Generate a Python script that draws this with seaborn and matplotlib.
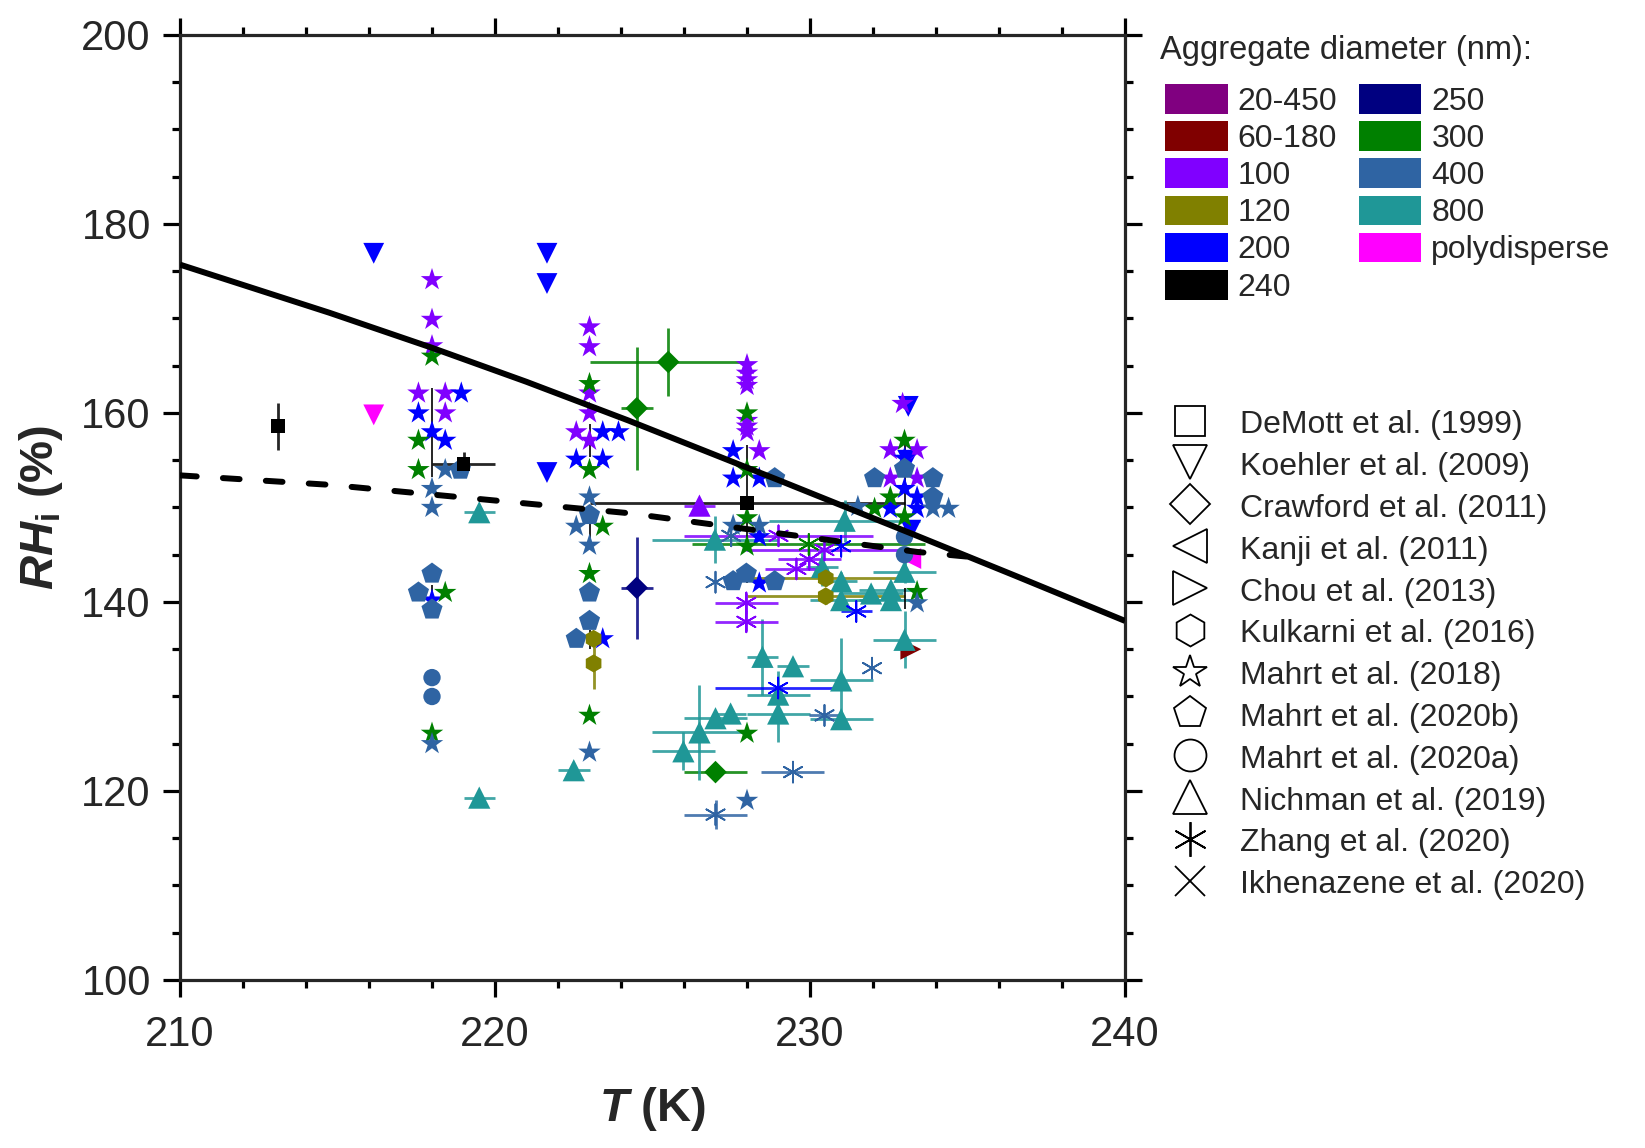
import numpy as np
import pandas as pd
import matplotlib
matplotlib.use("Agg")
import matplotlib.pyplot as plt
import seaborn as sns
from matplotlib.lines import Line2D
from matplotlib.patches import Patch
from matplotlib.ticker import MultipleLocator

# ---------------- data ----------------
size_labels = ['20-450', '60-180', '100', '120', '200', '240',
               '250', '300', '400', '800', 'polydisperse']
size_colors = ['#800080', '#800000', '#8000FF', '#808000', '#0000FF', '#000000',
               '#000080', '#008000', '#2F64A3', '#1F9797', '#FF00FF']

study_labels = ['DeMott et al. (1999)', 'Koehler et al. (2009)', 'Crawford et al. (2011)',
                'Kanji et al. (2011)', 'Chou et al. (2013)', 'Kulkarni et al. (2016)',
                'Mahrt et al. (2018)', 'Mahrt et al. (2020b)', 'Mahrt et al. (2020a)',
                'Nichman et al. (2019)', 'Zhang et al. (2020)', 'Ikhenazene et al. (2020)']

# reference curves
solid_T = [210, 214.75, 218, 221, 224.24, 229, 233.4, 236.5, 240]
solid_RH = [175.7, 170.6, 166.9, 163.3, 159.2, 152.9, 147.0, 142.8, 138.0]
dashed_T = [210, 214.75, 224.24, 233.4, 235.0]
dashed_RH = [153.4, 152.4, 149.4, 145.3, 144.8]

# DeMott et al. (1999)
demott_T = [213.1, 219.0, 228.0]
demott_RH = [158.6, 154.6, 150.5]
demott_xerr = [0.0, 1.0, 5.0]
demott_yerr = [2.5, 1.3, 0.0]
demott_d = ['240', '240', '240']

# Koehler et al. (2009)
koehler_T = [216.15, 221.65, 221.65, 221.65, 233.12, 233.1, 233.2, 216.15]
koehler_RH = [176.9, 176.9, 173.7, 153.7, 160.7, 155.0, 147.6, 159.8]
koehler_d = ['200', '200', '200', '200', '200', '200', '200', 'polydisperse']

# Crawford et al. (2011)
crawford_T = [225.5, 224.5, 224.5, 227.0]
crawford_RH = [165.4, 160.5, 141.5, 122.0]
crawford_xerr = [2.5, 0.5, 0.5, 1.0]
crawford_yerr = [3.6, 6.5, 5.4, 0.0]
crawford_d = ['300', '300', '250', '300']

# Kanji et al. (2011)
kanji_T = [233.2]
kanji_RH = [144.6]
kanji_d = ['polydisperse']

# Chou et al. (2013)
chou_T = [233.2]
chou_RH = [135.0]
chou_d = ['60-180']

# Kulkarni et al. (2016)
kulkarni_T = [223.13, 223.13, 230.5, 230.5]
kulkarni_RH = [136.1, 133.5, 142.5, 140.6]
kulkarni_xerr = [0.0, 0.0, 2.5, 2.5]
kulkarni_yerr = [0.0, 2.7, 0.8, 0.8]
kulkarni_d = ['120', '120', '120', '120']

# Mahrt et al. (2018) stars by diameter
m18_100_T = [218.0, 218.0, 218.0, 217.57, 218.42, 218.42, 223.0, 223.0, 223.0, 223.0,
             222.58, 223.0, 228.0, 228.0, 228.0, 228.0, 228.0, 228.0, 228.0, 228.39,
             232.94, 232.55, 233.4, 232.55, 233.4]
m18_100_RH = [174.1, 169.9, 167.1, 162.1, 162.1, 160.0, 169.1, 167.0, 162.1, 160.0,
              158.0, 157.1, 165.1, 164.2, 163.5, 162.9, 159.2, 158.6, 158.0, 156.0,
              161.0, 156.1, 156.1, 153.1, 153.1]
m18_200_T = [218.93, 217.57, 218.0, 218.42, 218.0, 223.42, 223.92, 222.58, 223.42, 223.42,
             227.56, 227.56, 228.39, 228.39, 228.39, 233.0, 233.0, 233.4, 232.55, 233.4]
m18_200_RH = [162.1, 160.0, 158.0, 157.1, 140.2, 158.0, 158.0, 155.1, 155.1, 136.1,
              156.0, 153.1, 153.1, 146.9, 142.0, 155.2, 152.0, 151.1, 149.9, 149.9]
m18_300_T = [218.0, 217.57, 217.57, 218.42, 218.0, 223.0, 223.0, 223.42, 223.0, 223.0,
             228.0, 228.0, 228.0, 228.0, 228.0, 233.0, 232.55, 232.05, 233.0, 233.4]
m18_300_RH = [166.0, 157.1, 154.0, 141.0, 126.1, 163.1, 154.0, 148.0, 143.0, 128.0,
              160.0, 154.0, 148.9, 145.9, 126.1, 157.1, 151.1, 149.9, 149.0, 141.1]
m18_400_T = [218.42, 218.0, 218.0, 218.0, 222.58, 223.0, 223.0, 223.0, 227.56, 228.39,
             228.0, 231.52, 233.9, 234.4, 233.4]
m18_400_RH = [154.0, 152.0, 150.0, 125.0, 148.0, 151.1, 146.0, 124.1, 148.1, 148.1,
              119.0, 150.1, 149.9, 149.9, 139.9]
# black uncertainty bars of the Mahrt et al. (2018) columns
m18_bar_T = [218.0, 218.0, 223.0, 223.0, 223.0, 228.0, 228.0, 233.0, 233.0]
m18_bar_lo = [153.2, 139.8, 155.3, 146.8, 135.0, 146.0, 142.0, 147.8, 139.3]
m18_bar_hi = [162.6, 141.8, 158.8, 149.2, 137.0, 156.6, 143.5, 156.8, 141.5]

# Mahrt et al. (2020b) pentagons
m20b_T = [218.9, 218.0, 217.57, 218.0, 223.0, 223.0, 223.0, 222.58, 228.88, 227.56,
          227.98, 228.88, 233.0, 232.05, 233.9, 233.9]
m20b_RH = [154.0, 143.0, 141.0, 139.2, 149.2, 141.0, 138.0, 136.1, 153.1, 142.2,
           143.0, 142.2, 154.1, 153.1, 153.1, 151.1]

# Mahrt et al. (2020a) circles
m20a_T = [218.0, 218.0, 233.0, 233.0]
m20a_RH = [132.0, 130.0, 146.9, 145.0]

# Nichman et al. (2019)
nichman_T = [219.5, 219.5, 222.5, 226.49, 226.98, 231.1, 233.0, 233.0, 230.38, 230.99,
             230.99, 231.94, 232.57, 232.57, 228.49, 229.46, 228.99, 230.99, 230.99,
             228.99, 227.0, 227.48, 226.49, 225.98]
nichman_RH = [149.5, 119.3, 122.2, 150.2, 146.6, 148.6, 143.2, 136.0, 143.7, 142.2,
              140.2, 140.9, 141.3, 140.2, 134.2, 133.2, 130.2, 131.7, 127.6,
              128.2, 127.7, 128.2, 126.2, 124.2]
nichman_xerr = [0.5, 0.5, 0.5, 0.5, 2.0, 2.4, 1.0, 1.0, 0.5, 0.5,
                1.0, 1.0, 1.0, 1.0, 0.5, 0.5, 1.0, 1.0, 1.0,
                1.0, 1.0, 0.5, 1.5, 1.0]
nichman_yerr = [0.0, 0.0, 0.0, 0.0, 2.5, 2.2, 1.2, 3.0, 2.0, 1.0,
                1.0, 0.0, 0.0, 0.0, 4.0, 0.0, 2.5, 4.5, 0.0,
                3.0, 0.0, 0.0, 5.0, 2.0]
nichman_d = ['800', '800', '800', '100', '800', '800', '800', '800', '800', '800',
             '800', '800', '800', '800', '800', '800', '800', '800', '800',
             '800', '800', '800', '800', '800']

# Zhang et al. (2020)
zhang_T = [227.0, 227.5, 231.97, 230.46, 229.46, 227.0, 228.99, 231.47, 230.99,
           227.98, 227.98, 229.0, 230.46, 229.98, 229.57, 229.96]
zhang_RH = [142.1, 147.0, 133.0, 128.0, 122.0, 117.5, 130.9, 139.0, 145.9,
            139.9, 137.9, 147.0, 145.5, 144.5, 143.5, 146.1]
zhang_xerr = [0.0, 0.0, 0.0, 0.5, 1.0, 1.0, 2.0, 0.5, 0.0,
              1.0, 1.0, 3.0, 2.5, 1.0, 1.0, 3.7]
zhang_yerr = [0.0, 0.0, 0.0, 0.0, 0.0, 1.5, 0.0, 0.0, 0.0,
              1.0, 1.0, 0.0, 0.0, 0.0, 0.0, 0.0]
zhang_d = ['400', '400', '400', '400', '400', '400', '200', '200', '200',
           '100', '100', '100', '100', '100', '100', '300']

# ---------------- style ----------------
sns.set_style("ticks")
plt.rcParams['font.family'] = ['Liberation Sans', 'DejaVu Sans']
plt.rcParams.update({
    'mathtext.fontset': 'custom',
    'mathtext.rm': 'Liberation Sans',
    'mathtext.it': 'Liberation Sans:italic',
    'mathtext.bf': 'Liberation Sans:bold',
    'mathtext.bfit': 'Liberation Sans:italic:bold',
})

palette = dict(zip(size_labels, size_colors))

fig = plt.figure(figsize=(16.45, 11.48), dpi=100)
ax = fig.add_axes([180 / 1645, 1 - 980 / 1148, 945 / 1645, 945 / 1148])


def frame(T, RH, d, xerr=None, yerr=None):
    df = pd.DataFrame({'T': T, 'RH': RH, 'd': d})
    df['xerr'] = xerr if xerr is not None else 0.0
    df['yerr'] = yerr if yerr is not None else 0.0
    return df


def errbars(df, z=2):
    for lab, g in df.groupby('d'):
        if (g['xerr'] > 0).any() or (g['yerr'] > 0).any():
            ax.errorbar(g['T'], g['RH'], xerr=g['xerr'], yerr=g['yerr'], fmt='none',
                        ecolor=palette[lab], elinewidth=2.0, capsize=0, alpha=0.85,
                        zorder=z)


def points(df, marker, ms, z, lw=0.0):
    kws = dict(data=df, x='T', y='RH', hue='d', palette=palette, marker=marker,
               s=ms ** 2, legend=False, ax=ax, zorder=z)
    if matplotlib.markers.MarkerStyle(marker).is_filled():
        kws.update(linewidth=0, edgecolor='none')
    else:
        kws.update(linewidth=lw)
    sns.scatterplot(**kws)


df_demott = frame(demott_T, demott_RH, demott_d, demott_xerr, demott_yerr)
df_koehler = frame(koehler_T, koehler_RH, koehler_d)
df_crawford = frame(crawford_T, crawford_RH, crawford_d, crawford_xerr, crawford_yerr)
df_kanji = frame(kanji_T, kanji_RH, kanji_d)
df_chou = frame(chou_T, chou_RH, chou_d)
df_kulkarni = frame(kulkarni_T, kulkarni_RH, kulkarni_d, kulkarni_xerr, kulkarni_yerr)
df_m18 = pd.concat([
    frame(m18_100_T, m18_100_RH, ['100'] * len(m18_100_T)),
    frame(m18_200_T, m18_200_RH, ['200'] * len(m18_200_T)),
    frame(m18_300_T, m18_300_RH, ['300'] * len(m18_300_T)),
    frame(m18_400_T, m18_400_RH, ['400'] * len(m18_400_T)),
], ignore_index=True)
df_m20b = frame(m20b_T, m20b_RH, ['400'] * len(m20b_T))
df_m20a = frame(m20a_T, m20a_RH, ['400'] * len(m20a_T))
df_nichman = frame(nichman_T, nichman_RH, nichman_d, nichman_xerr, nichman_yerr)
df_zhang = frame(zhang_T, zhang_RH, zhang_d, zhang_xerr, zhang_yerr)

# error bars
for df in [df_demott, df_crawford, df_kulkarni, df_nichman, df_zhang]:
    errbars(df)
ax.vlines(m18_bar_T, m18_bar_lo, m18_bar_hi, colors='k', linewidth=1.2, zorder=2.5)

# markers
asterisk = (6, 2, 0)
points(df_koehler, 'v', 15, 3)
points(df_kanji, '<', 15, 3.1)
points(df_chou, '>', 15, 3.1)
points(df_crawford, 'D', 11.5, 3.2)
points(df_nichman, '^', 16, 3.3)
points(df_m18, '*', 17, 3.4)
points(df_m20b, 'p', 16, 3.5)
points(df_m20a, 'o', 12.5, 3.6)
points(df_kulkarni, 'h', 13, 3.7)
points(df_zhang, asterisk, 15, 3.8, lw=1.3)
points(df_demott, 's', 10, 3.9)

# reference curves
sns.lineplot(x=solid_T, y=solid_RH, color='k', linewidth=4.3, sort=False,
             ax=ax, zorder=10, solid_capstyle='butt')
sns.lineplot(x=dashed_T, y=dashed_RH, color='k', linewidth=4.3, sort=False,
             ax=ax, zorder=10, linestyle=(0, (2.8, 4.4)), dash_capstyle='round')

# axes
ax.set_xlim(210, 240)
ax.set_ylim(100, 200)
ax.xaxis.set_major_locator(MultipleLocator(10))
ax.xaxis.set_minor_locator(MultipleLocator(2))
ax.yaxis.set_major_locator(MultipleLocator(20))
ax.yaxis.set_minor_locator(MultipleLocator(5))
for sp in ax.spines.values():
    sp.set_linewidth(2.3)
    sp.set_visible(True)
ax.tick_params(which='both', direction='out', top=True, right=True, color='k')
ax.tick_params(which='major', length=12, width=2.3, labelsize=30, pad=9)
ax.tick_params(axis='x', which='major', pad=13)
ax.tick_params(which='minor', length=5.5, width=2.3)
ax.set_xlabel(r'$\mathbfit{T}$ (K)', fontsize=34, fontweight='bold', labelpad=22)
ax.set_ylabel(r'$\mathbfit{RH}_{\mathbf{i}}$ (%)', fontsize=34, fontweight='bold', labelpad=12)
ax.grid(False)

# legends
fig.text(1160 / 1645, 1 - 50 / 1148, 'Aggregate diameter (nm):', fontsize=23.5,
         ha='left', va='center')
size_handles = [Patch(facecolor=c, edgecolor='none') for c in size_colors]
leg1 = fig.legend(size_handles, size_labels, loc='upper left',
                  bbox_to_anchor=(1165 / 1645, 1 - 84 / 1148), ncol=2, frameon=False,
                  fontsize=23, handlelength=1.97, handleheight=1.05, handletextpad=0.31,
                  labelspacing=0.14, columnspacing=0.66, borderpad=0, borderaxespad=0)

study_markers = ['s', 'v', 'D', '<', '>', 'h', '*', 'p', 'o', '^', asterisk, 'x']
study_ms = [21, 25, 20, 25, 25, 23, 25, 24, 23, 25, 25, 22]
study_handles = [Line2D([], [], linestyle='none', marker=m, markersize=s,
                        markerfacecolor='none', markeredgecolor='k', markeredgewidth=1.3)
                 for m, s in zip(study_markers, study_ms)]
leg2 = fig.legend(study_handles, study_labels, loc='upper left',
                  bbox_to_anchor=(1165 / 1645, 1 - 408 / 1148), frameon=False,
                  fontsize=23, handlelength=1.57, handleheight=1.0, handletextpad=0.78,
                  labelspacing=0.30, borderpad=0, borderaxespad=0)

fig.savefig('out.png', dpi=100)
